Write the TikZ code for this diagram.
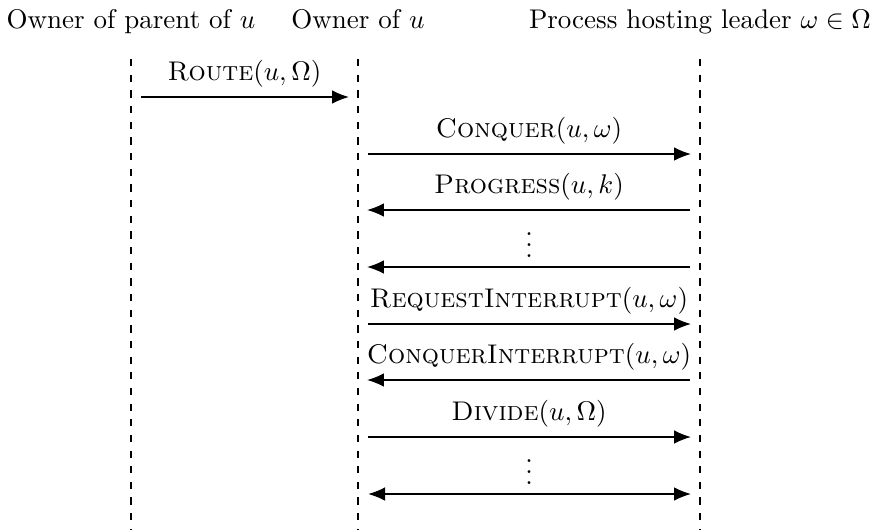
\documentclass[tikz,border=0pt]{standalone}
\usetikzlibrary{arrows.meta}
\begin{document}
\begin{tikzpicture}[x=0.37037pt,y=-0.37037pt,
  lifeline/.style={dash pattern=on 2.7pt off 3.1pt,line width=0.4pt},
  head/.style={anchor=base,inner sep=0pt},
  tip/.style={Latex[length=6.2pt,width=5pt]},
  msg/.style={line width=0.4pt,-{Latex[length=6.2pt,width=5pt]},shorten <=3.8pt,shorten >=3.4pt},
  bimsg/.style={line width=0.4pt,{Latex[length=6.2pt,width=5pt]}-{Latex[length=6.2pt,width=5pt]},shorten <=3.8pt,shorten >=3.4pt},
  lbl/.style={above}]
\useasboundingbox (0,0) rectangle (872,529);

% process headers
\node[head] (hp) at (131,28) {Owner of parent of $u$};
\node[head] (ho) at (358,28) {Owner of $u$};
\node[head] (hl) at (700,28) {Process hosting leader $\omega\in\Omega$};

% lifelines
\coordinate (pt) at (131,59); \coordinate (pb) at (131,529);
\coordinate (ot) at (358,59); \coordinate (ob) at (358,529);
\coordinate (lt) at (700,59); \coordinate (lb) at (700,529);
\draw[lifeline] (pt) -- (pb);
\draw[lifeline] (ot) -- (ob);
\draw[lifeline] (lt) -- (lb);

% message rows
\coordinate (p1) at (131,97);  \coordinate (o1) at (358,97);
\foreach \i/\y in {2/154,3/210,4/267,5/324,6/380,7/437,8/494}{
  \coordinate (o\i) at (358,\y);
  \coordinate (l\i) at (700,\y);
}

\draw[msg] (p1) -- node[lbl] {\textsc{Route}$(u,\Omega)$} (o1);
\draw[msg] (o2) -- node[lbl] {\textsc{Conquer}$(u,\omega)$} (l2);
\draw[msg] (l3) -- node[lbl] {\textsc{Progress}$(u,k)$} (o3);
\draw[msg] (l4) -- node[lbl] {$\vdots$} (o4);
\draw[msg] (o5) -- node[lbl] {\textsc{RequestInterrupt}$(u,\omega)$} (l5);
\draw[msg] (l6) -- node[lbl] {\textsc{ConquerInterrupt}$(u,\omega)$} (o6);
\draw[msg] (o7) -- node[lbl] {\textsc{Divide}$(u,\Omega)$} (l7);
\draw[bimsg] (o8) -- node[lbl] {$\vdots$} (l8);
\end{tikzpicture}
\end{document}
